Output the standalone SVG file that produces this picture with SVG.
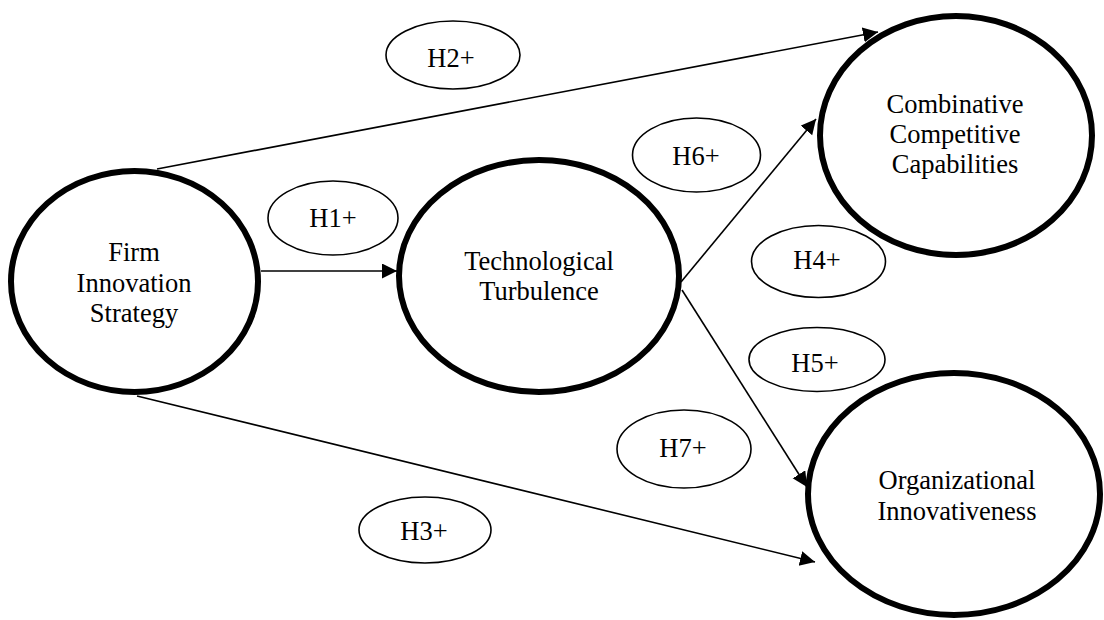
<svg xmlns="http://www.w3.org/2000/svg" width="1104" height="620" viewBox="0 0 1104 620">
<style>
.big{fill:#fff;stroke:#000;stroke-width:6}
.hyp{fill:#fff;stroke:#000;stroke-width:1.6}
.t{font-family:"Liberation Serif","Times New Roman",serif;font-size:26.5px;fill:#000;text-anchor:middle}
.c{stroke:#000;stroke-width:1.6;fill:none}
</style>
<defs>
<marker id="ah" markerUnits="userSpaceOnUse" markerWidth="16" markerHeight="16" refX="15" refY="7.5" orient="auto">
<path d="M0,0 L15,7.5 L0,15 z" fill="#000"/>
</marker>
</defs>
<rect width="1104" height="620" fill="#fff"/>
<g id="connectors">
<line class="c" x1="157" y1="169" x2="878" y2="32" marker-end="url(#ah)"/>
<line class="c" x1="261" y1="271" x2="397" y2="271" marker-end="url(#ah)"/>
<line class="c" x1="137" y1="396" x2="815" y2="562" marker-end="url(#ah)"/>
<line class="c" x1="681" y1="282" x2="816" y2="119" marker-end="url(#ah)"/>
<line class="c" x1="682" y1="290" x2="807" y2="487" marker-end="url(#ah)"/>
</g>
<g id="firm">
<ellipse class="big" cx="134.5" cy="281.5" rx="123.5" ry="110.5"/>
<text class="t" x="134" y="261">Firm</text>
<text class="t" x="134" y="292">Innovation</text>
<text class="t" x="134" y="322">Strategy</text>
</g>
<g id="tech">
<ellipse class="big" cx="539" cy="276" rx="140" ry="116"/>
<text class="t" x="539" y="270">Technological</text>
<text class="t" x="539" y="300">Turbulence</text>
</g>
<g id="ccc">
<ellipse class="big" cx="956" cy="135.5" rx="136" ry="119.5"/>
<text class="t" x="955" y="113">Combinative</text>
<text class="t" x="955" y="143">Competitive</text>
<text class="t" x="955" y="173">Capabilities</text>
</g>
<g id="oi">
<ellipse class="big" cx="954" cy="494" rx="146" ry="121"/>
<text class="t" x="957" y="489">Organizational</text>
<text class="t" x="957" y="520">Innovativeness</text>
</g>
<g id="h2"><ellipse class="hyp" cx="453" cy="55" rx="67" ry="34"/><text class="t" x="451" y="67">H2+</text></g>
<g id="h1"><ellipse class="hyp" cx="333" cy="218" rx="65" ry="37"/><text class="t" x="333" y="227">H1+</text></g>
<g id="h6"><ellipse class="hyp" cx="696.5" cy="155" rx="64" ry="37"/><text class="t" x="696" y="165">H6+</text></g>
<g id="h4"><ellipse class="hyp" cx="818.5" cy="261.5" rx="67" ry="36"/><text class="t" x="817" y="269">H4+</text></g>
<g id="h5"><ellipse class="hyp" cx="817" cy="359.5" rx="68" ry="32"/><text class="t" x="815" y="372">H5+</text></g>
<g id="h7"><ellipse class="hyp" cx="684" cy="449" rx="67" ry="39"/><text class="t" x="683" y="457">H7+</text></g>
<g id="h3"><ellipse class="hyp" cx="425" cy="530" rx="66" ry="33"/><text class="t" x="424" y="540">H3+</text></g>
</svg>
